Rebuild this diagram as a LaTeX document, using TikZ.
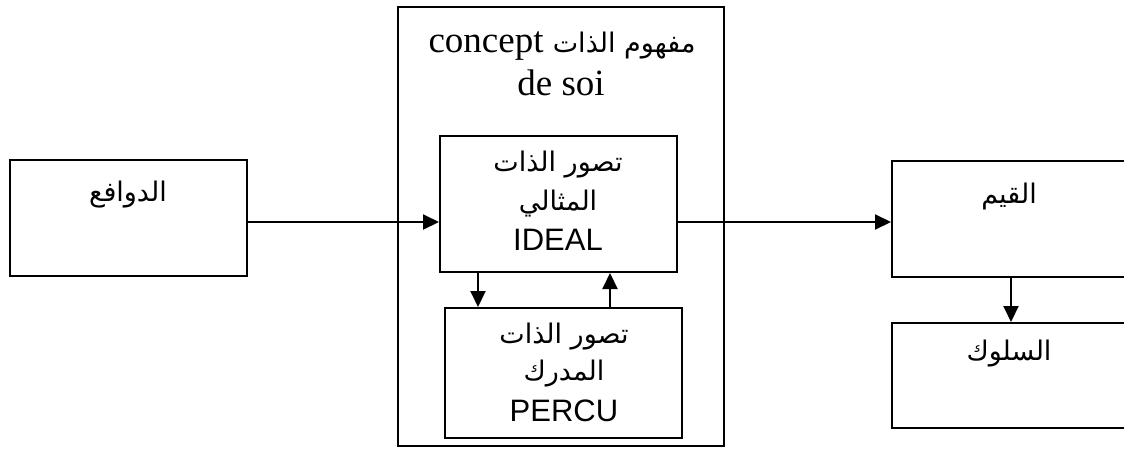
\documentclass[tikz,border=0pt]{standalone}
\usepackage{fontspec}
\setmainfont{Liberation Sans}
\newfontfamily\arabicfont[Script=Arabic]{DejaVu Sans}
\newfontfamily\seriffont{Liberation Serif}
\TeXXeTstate=1
\usetikzlibrary{arrows.meta}
\begin{document}
\begin{tikzpicture}[x=1pt,y=-1pt,
  box/.style={draw, line width=2pt, inner sep=0pt, rectangle},
  arr/.style={line width=2pt, -{Triangle[length=16pt,width=15pt]}},
  ar/.style={font=\arabicfont\fontsize{27}{32}\selectfont, anchor=base, inner sep=0pt},
  lat/.style={font=\fontsize{31}{36}\selectfont, anchor=base, inner sep=0pt},
  ttl/.style={font=\seriffont\fontsize{37}{42}\selectfont, anchor=base, inner sep=0pt}]
\useasboundingbox (0,0) rectangle (1124,448);
\clip (0,0) rectangle (1124,448);
% boxes
\node[box, minimum width=237pt, minimum height=116pt] (lb) at (128.5,218) {};
\node[box, minimum width=326pt, minimum height=439pt] (outer) at (561,226.5) {};
\node[box, minimum width=237pt, minimum height=136pt] (ideal) at (558.5,204) {};
\node[box, minimum width=237pt, minimum height=130pt] (percu) at (563.5,373) {};
\node[box, minimum width=237pt, minimum height=116pt] (rt) at (1010.5,219) {};
\node[box, minimum width=237pt, minimum height=105pt] (rb) at (1010.5,375.5) {};
% texts
\node[ar] (t1) at (128,201) {\beginR الدوافع\endR};
\node[ttl] (tt1) at (562,52) {\beginR{\arabicfont\fontsize{27}{32}\selectfont مفهوم الذات} \beginL concept\endL\endR};
\node[ttl] (tt2) at (561,95) {de soi};
\node[ar] (i1) at (558,171) {\beginR تصور الذات\endR};
\node[ar] (i2) at (558,210) {\beginR المثالي\endR};
\node[lat] (i3) at (558,250) {IDEAL};
\node[ar] (p1) at (564,343) {\beginR تصور الذات\endR};
\node[ar] (p2) at (564,380) {\beginR المدرك\endR};
\node[lat] (p3) at (564,421) {PERCU};
\node[ar] (r1) at (1009,203) {\beginR القيم\endR};
\node[ar] (r2) at (1009,360) {\beginR السلوك\endR};
% connectors
\draw[arr] (lb.east |- 0,222) -- (ideal.west |- 0,222);
\draw[arr] (ideal.east |- 0,222) -- (rt.west |- 0,222);
\draw[arr] (ideal.south -| 478,0) -- (percu.north -| 478,0);
\draw[arr] (percu.north -| 610,0) -- (ideal.south -| 610,0);
\draw[arr] (rt.south -| 1011,0) -- (rb.north -| 1011,0);
\end{tikzpicture}
\end{document}
